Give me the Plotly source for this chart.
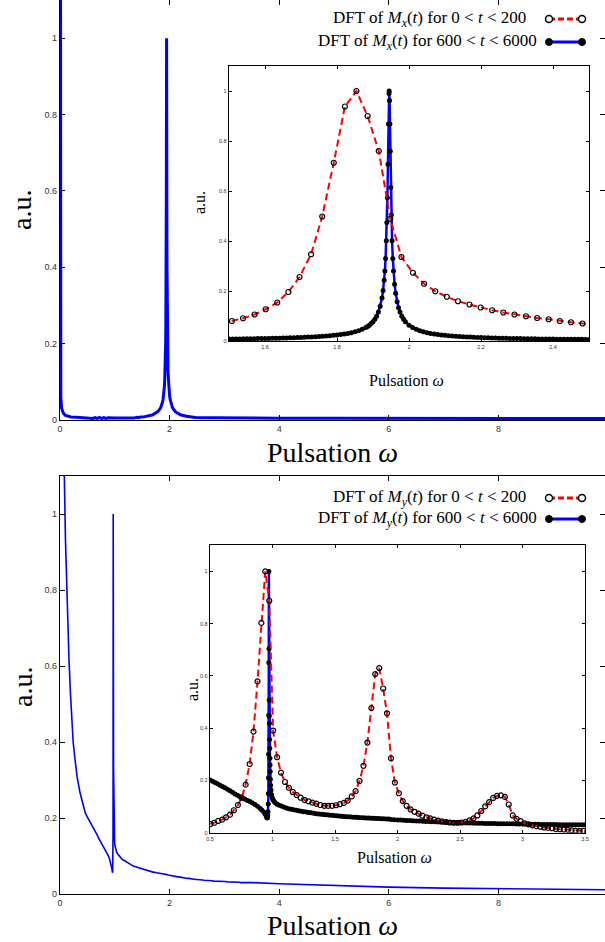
import plotly.graph_objects as go

# ---------------- DATA ----------------
# Top inset: DFT of Mx(t), 0<t<200 (red dashed, open circles)
mx_short_w = [1.477, 1.508, 1.539, 1.571, 1.602, 1.634, 1.665, 1.696, 1.728, 1.759, 1.791,
              1.822, 1.854, 1.885, 1.916, 1.948, 1.979, 2.011, 2.042, 2.073, 2.105,
              2.136, 2.168, 2.199, 2.231, 2.262, 2.293, 2.325, 2.356, 2.388, 2.419,
              2.450, 2.482, 2.513]
mx_short_a = [0.073, 0.080, 0.091, 0.106, 0.127, 0.154, 0.196, 0.256, 0.347, 0.498, 0.713,
              0.938, 1.000, 0.900, 0.760, 0.489, 0.336, 0.273, 0.229, 0.199, 0.177,
              0.159, 0.146, 0.134, 0.123, 0.114, 0.106, 0.099, 0.092, 0.087, 0.080,
              0.075, 0.070, 0.066]

# DFT of Mx(t), 600<t<6000 (blue line, black dots) in the inset window
mx_long_w = [1.49, 1.50, 1.51, 1.52, 1.53, 1.54, 1.55, 1.56, 1.57, 1.58, 1.59, 1.60, 1.61,
             1.62, 1.63, 1.64, 1.65, 1.66, 1.67, 1.68, 1.69, 1.70, 1.71, 1.72, 1.73, 1.74,
             1.75, 1.76, 1.77, 1.78, 1.79, 1.80, 1.81, 1.82, 1.83, 1.84, 1.85, 1.86, 1.87,
             1.88, 1.885, 1.89, 1.895, 1.90, 1.905, 1.91, 1.915, 1.92, 1.925, 1.928, 1.931,
             1.933, 1.935, 1.937, 1.9385, 1.940, 1.9415, 1.943, 1.9445, 1.945, 1.946, 1.947,
             1.948, 1.9495, 1.951, 1.953, 1.955, 1.957, 1.960, 1.963, 1.967, 1.971, 1.975,
             1.98, 1.985, 1.99, 2.00, 2.01, 2.02, 2.03, 2.04, 2.05, 2.06, 2.07, 2.08, 2.09,
             2.10, 2.11, 2.12, 2.13, 2.14, 2.15, 2.16, 2.17, 2.18, 2.19, 2.20, 2.21, 2.22,
             2.23, 2.24, 2.25, 2.26, 2.27, 2.28, 2.29, 2.30, 2.31, 2.32, 2.33, 2.34, 2.35,
             2.36, 2.37, 2.38, 2.39, 2.40, 2.41, 2.42, 2.43, 2.44, 2.45, 2.46, 2.47, 2.48,
             2.49, 2.50, 2.51]
mx_long_a = [0.0077, 0.0079, 0.0080, 0.0082, 0.0084, 0.0086, 0.0089, 0.0091, 0.0093, 0.0096,
             0.0099, 0.0101, 0.0104, 0.0108, 0.0111, 0.0115, 0.0119, 0.0123, 0.0127, 0.0132,
             0.0137, 0.0143, 0.0149, 0.0156, 0.0163, 0.0171, 0.0179, 0.0189, 0.0200, 0.0212,
             0.0226, 0.0241, 0.0259, 0.0280, 0.0304, 0.0333, 0.0368, 0.0411, 0.0466, 0.0537,
             0.0582, 0.0635, 0.0698, 0.0775, 0.0872, 0.0995, 0.116, 0.139, 0.172, 0.202, 0.243,
             0.280, 0.330, 0.401, 0.474, 0.573, 0.707, 0.868, 0.990, 1.000, 0.962, 0.868,
             0.759, 0.614, 0.504, 0.401, 0.330, 0.280, 0.227, 0.191, 0.157, 0.133, 0.116,
             0.0995, 0.0872, 0.0775, 0.0635, 0.0537, 0.0466, 0.0411, 0.0368, 0.0333, 0.0304,
             0.0280, 0.0259, 0.0241, 0.0226, 0.0212, 0.0200, 0.0189, 0.0179, 0.0171, 0.0163,
             0.0156, 0.0149, 0.0143, 0.0137, 0.0132, 0.0127, 0.0123, 0.0119, 0.0115, 0.0111,
             0.0108, 0.0104, 0.0101, 0.0099, 0.0096, 0.0093, 0.0091, 0.0089, 0.0086, 0.0084,
             0.0082, 0.0080, 0.0079, 0.0077, 0.0075, 0.0074, 0.0072, 0.0071, 0.0069, 0.0068,
             0.0067, 0.0066, 0.0065, 0.0063, 0.0062]

# Rest of the Mx long-window spectrum, seen only in the main top panel
mx_long_low_w = [0.0, 0.004, 0.008, 0.015, 0.03, 0.06, 0.1, 0.15, 0.2, 0.3, 0.4, 0.5, 0.55,
                 0.6, 0.64, 0.68, 0.72, 0.76, 0.8, 0.84, 0.88, 0.92, 0.96, 1.0, 1.1, 1.2,
                 1.3, 1.35, 1.4, 1.44, 1.47]
mx_long_low_a = [3.0, 0.5, 0.15, 0.06, 0.03, 0.018, 0.012, 0.009, 0.008, 0.007, 0.006, 0.005,
                 0.006, 0.004, 0.006, 0.004, 0.007, 0.004, 0.006, 0.004, 0.006, 0.005, 0.006,
                 0.005, 0.005, 0.005, 0.006, 0.005, 0.007, 0.006, 0.008]
mx_long_high_w = [2.6, 2.8, 3.0, 3.5, 4.0, 5.0, 6.0, 7.0, 8.0, 9.0, 10.0]
mx_long_high_a = [0.0060, 0.0056, 0.0053, 0.0050, 0.0048, 0.0046, 0.0045, 0.0044, 0.0042,
                  0.0041, 0.0040]

# Bottom inset: DFT of My(t), 0<t<200 (red dashed, open circles)
my_short_w = [0.503, 0.534, 0.565, 0.597, 0.628, 0.660, 0.691, 0.723, 0.754, 0.785, 0.817,
              0.848, 0.880, 0.911, 0.942, 0.974, 1.005, 1.037, 1.068, 1.100, 1.131, 1.162,
              1.194, 1.225, 1.257, 1.288, 1.319, 1.351, 1.382, 1.414, 1.445, 1.477, 1.508,
              1.539, 1.571, 1.602, 1.634, 1.665, 1.696, 1.728, 1.759, 1.791, 1.822, 1.854,
              1.885, 1.916, 1.948, 1.979, 2.011, 2.042, 2.073, 2.105, 2.136, 2.168, 2.199,
              2.231, 2.262, 2.293, 2.325, 2.356, 2.388, 2.419, 2.450, 2.482, 2.513, 2.545,
              2.576, 2.608, 2.639, 2.670, 2.702, 2.733, 2.765, 2.796, 2.827, 2.859, 2.890,
              2.922, 2.953, 2.985, 3.016, 3.047, 3.079, 3.110, 3.142, 3.173, 3.204, 3.236,
              3.267, 3.299, 3.330, 3.362, 3.393, 3.424, 3.456, 3.487, 3.519]
my_short_a = [0.033, 0.038, 0.045, 0.050, 0.059, 0.069, 0.086, 0.106, 0.134, 0.184, 0.263,
              0.387, 0.579, 0.803, 1.000, 0.888, 0.391, 0.289, 0.230, 0.194, 0.172, 0.156,
              0.144, 0.134, 0.125, 0.120, 0.115, 0.111, 0.106, 0.103, 0.103, 0.103, 0.105,
              0.109, 0.114, 0.123, 0.139, 0.159, 0.198, 0.256, 0.345, 0.477, 0.607, 0.630,
              0.552, 0.457, 0.285, 0.192, 0.151, 0.121, 0.103, 0.089, 0.080, 0.073, 0.065,
              0.059, 0.055, 0.050, 0.046, 0.043, 0.041, 0.039, 0.038, 0.038, 0.039, 0.042,
              0.047, 0.055, 0.066, 0.083, 0.101, 0.117, 0.133, 0.141, 0.143, 0.137, 0.108,
              0.066, 0.053, 0.044, 0.036, 0.032, 0.028, 0.025, 0.023, 0.020, 0.019, 0.017,
              0.014, 0.013, 0.012, 0.011, 0.009, 0.008, 0.007, 0.007, 0.006]

# DFT of My(t), 600<t<6000 in the inset window
my_long_w = [0.50, 0.52, 0.54, 0.56, 0.58, 0.60, 0.62, 0.64, 0.66, 0.68, 0.70, 0.72, 0.74,
             0.76, 0.78, 0.80, 0.82, 0.84, 0.86, 0.88, 0.90, 0.915, 0.93, 0.94, 0.948, 0.953,
             0.957, 0.960, 0.962, 0.964, 0.966, 0.967, 0.968, 0.969, 0.970, 0.9705, 0.971,
             0.9722, 0.9734, 0.9745, 0.9757, 0.9769, 0.978, 0.9792, 0.9804, 0.9815, 0.983,
             0.985, 0.988, 0.992, 0.997, 1.003, 1.01, 1.02, 1.035, 1.05, 1.07, 1.09, 1.11,
             1.13, 1.15, 1.17, 1.19, 1.21, 1.23, 1.25, 1.27, 1.29, 1.31, 1.33, 1.35, 1.37,
             1.39, 1.41, 1.43, 1.45, 1.47, 1.49, 1.51, 1.53, 1.55, 1.57, 1.59, 1.61, 1.63,
             1.65, 1.67, 1.69, 1.71, 1.73, 1.75, 1.77, 1.79, 1.81, 1.83, 1.85, 1.87, 1.89,
             1.91, 1.93, 1.95, 1.975, 2.00, 2.025, 2.05, 2.075, 2.10, 2.125, 2.15, 2.175,
             2.20, 2.225, 2.25, 2.275, 2.30, 2.325, 2.35, 2.375, 2.40, 2.425, 2.45, 2.475,
             2.50, 2.525, 2.55, 2.575, 2.60, 2.625, 2.65, 2.675, 2.70, 2.725, 2.75, 2.775,
             2.80, 2.825, 2.85, 2.875, 2.90, 2.925, 2.95, 2.975, 3.00, 3.025, 3.05, 3.075,
             3.10, 3.125, 3.15, 3.175, 3.20, 3.225, 3.25, 3.275, 3.30, 3.325, 3.35, 3.375,
             3.40, 3.425, 3.45, 3.475, 3.50, 3.52]
my_long_a = [0.202, 0.197, 0.192, 0.187, 0.182, 0.177, 0.172, 0.166, 0.161, 0.155, 0.148,
             0.143, 0.138, 0.133, 0.128, 0.123, 0.119, 0.114, 0.108, 0.101, 0.094, 0.087,
             0.079, 0.073, 0.066, 0.060, 0.056, 0.058, 0.066, 0.080, 0.110, 0.150, 0.210,
             0.300, 0.450, 0.650, 1.000, 0.704, 0.508, 0.447, 0.419, 0.357, 0.323, 0.285,
             0.259, 0.234, 0.205, 0.182, 0.163, 0.146, 0.135, 0.127, 0.121, 0.116, 0.110,
             0.106, 0.102, 0.098, 0.095, 0.092, 0.090, 0.088, 0.086, 0.084, 0.082, 0.080,
             0.079, 0.077, 0.076, 0.074, 0.073, 0.072, 0.071, 0.070, 0.069, 0.068, 0.067,
             0.066, 0.065, 0.064, 0.063, 0.062, 0.061, 0.061, 0.060, 0.059, 0.059, 0.058,
             0.057, 0.057, 0.056, 0.056, 0.055, 0.055, 0.054, 0.054, 0.053, 0.053, 0.052,
             0.052, 0.051, 0.050, 0.049, 0.049, 0.048, 0.047, 0.047, 0.046, 0.045, 0.045,
             0.044, 0.043, 0.043, 0.042, 0.042, 0.041, 0.041, 0.040, 0.040, 0.039, 0.039,
             0.038, 0.038, 0.038, 0.037, 0.037, 0.037, 0.036, 0.036, 0.036, 0.035, 0.035,
             0.035, 0.035, 0.034, 0.034, 0.034, 0.034, 0.034, 0.034, 0.033, 0.033, 0.033,
             0.033, 0.032, 0.032, 0.032, 0.032, 0.031, 0.031, 0.031, 0.031, 0.031, 0.031,
             0.030, 0.030, 0.030, 0.030, 0.030, 0.030, 0.030, 0.030, 0.030, 0.030]

my_long_low_w = [0.04, 0.06, 0.079, 0.10, 0.12, 0.14, 0.164, 0.19, 0.213, 0.24, 0.274, 0.31,
                 0.365, 0.42, 0.46]
my_long_low_a = [2.0, 1.4, 1.10, 0.93, 0.809, 0.70, 0.617, 0.53, 0.459, 0.40, 0.354, 0.31,
                 0.267, 0.232, 0.214]
my_long_high_w = [4.0, 5.0, 6.0, 7.0, 8.0, 9.0, 10.0]
my_long_high_a = [0.027, 0.022, 0.018, 0.0155, 0.0135, 0.012, 0.011]

y_ticks = [0, 0.2, 0.4, 0.6, 0.8, 1.0]
main_x_ticks = [0, 2, 4, 6, 8, 10]
inset1_x_ticks = [1.6, 1.8, 2.0, 2.2, 2.4]
inset2_x_ticks = [0.5, 1.0, 1.5, 2.0, 2.5, 3.0, 3.5]

# ---------------- FIGURE ----------------
W, H = 605, 942
def px(x):
    return x / W
def py(y):
    return 1 - y / H

BLUE = "#0000ff"
RED = "#ff0000"
SERIF = "Liberation Serif, DejaVu Serif, serif"
SANS = "Liberation Sans, DejaVu Sans, sans-serif"

fig = go.Figure()

# main top
fig.add_trace(go.Scatter(x=mx_long_low_w + mx_long_w + mx_long_high_w,
                         y=mx_long_low_a + mx_long_a + mx_long_high_a,
                         mode="lines", line=dict(color=BLUE, width=3),
                         xaxis="x", yaxis="y", showlegend=False))
# inset top
fig.add_trace(go.Scatter(x=mx_long_w, y=mx_long_a, mode="lines+markers",
                         line=dict(color=BLUE, width=2.5),
                         marker=dict(color="black", size=5, line=dict(width=0)),
                         xaxis="x2", yaxis="y2", showlegend=False))
fig.add_trace(go.Scatter(x=mx_short_w, y=mx_short_a, mode="lines+markers",
                         line=dict(color=RED, width=2, dash="7px,4px"),
                         marker=dict(symbol="circle-open", color="black", size=5,
                                     line=dict(width=1.2)),
                         xaxis="x2", yaxis="y2", showlegend=False))
# main bottom
fig.add_trace(go.Scatter(x=my_long_low_w + my_long_w + my_long_high_w,
                         y=my_long_low_a + my_long_a + my_long_high_a,
                         mode="lines", line=dict(color=BLUE, width=1.6),
                         xaxis="x3", yaxis="y3", showlegend=False))
# inset bottom
fig.add_trace(go.Scatter(x=my_long_w, y=my_long_a, mode="lines+markers",
                         line=dict(color=BLUE, width=2.5),
                         marker=dict(color="black", size=5, line=dict(width=0)),
                         xaxis="x4", yaxis="y4", showlegend=False))
fig.add_trace(go.Scatter(x=my_short_w, y=my_short_a, mode="lines+markers",
                         line=dict(color=RED, width=2, dash="7px,4px"),
                         marker=dict(symbol="circle-open", color="black", size=5,
                                     line=dict(width=1.2)),
                         xaxis="x4", yaxis="y4", showlegend=False))

def ax(domain, rng, tickvals, fsize, ticklen, anchor):
    return dict(domain=domain, range=rng, tickvals=tickvals, showline=True,
                linecolor="black", linewidth=1.3, mirror="ticks", ticks="inside",
                ticklen=ticklen, tickcolor="black", tickwidth=1, showgrid=False,
                zeroline=False, anchor=anchor, automargin=False,
                tickfont=dict(family=SANS, size=fsize, color="#333333"))

fig.update_layout(
    template="none",
    width=W, height=H, margin=dict(l=0, r=0, t=0, b=0, pad=0), autosize=False,
    paper_bgcolor="white", plot_bgcolor="white", hovermode=False,
    xaxis=ax([px(60), 1.0], [0, 9.945], main_x_ticks, 9, 5, "y"),
    yaxis=ax([py(420), 1.0], [0, 1.1], y_ticks, 9, 5, "x"),
    xaxis2=ax([px(229), px(589)], [1.5, 2.5], inset1_x_ticks, 5.5, 3, "y2"),
    yaxis2=ax([py(341), py(66)], [0, 1.1], y_ticks, 5.5, 3, "x2"),
    xaxis3=ax([px(60), 1.0], [0, 9.945], main_x_ticks, 9, 5, "y3"),
    yaxis3=ax([py(894), py(476)], [0, 1.1], y_ticks, 9, 5, "x3"),
    xaxis4=ax([px(210), px(585)], [0.5, 3.5], inset2_x_ticks, 5.5, 3, "y4"),
    yaxis4=ax([py(832.7), py(545.3)], [0, 1.1], y_ticks, 5.5, 3, "x4"),
)

annotations = []
def txt(x, y, s, size, angle=0, xanchor="center"):
    annotations.append(dict(x=px(x), y=py(y), xref="paper", yref="paper", text=s,
                            showarrow=False, xanchor=xanchor, yanchor="middle",
                            textangle=angle, font=dict(family=SERIF, size=size, color="black")))

omega = "Pulsation <i>ω</i>"
txt(332, 452, omega, 28)
txt(332, 925, omega, 28)
txt(22, 210, "a.u.", 28, -90)
txt(22, 687, "a.u.", 28, -90)
txt(406, 380, omega, 16)
txt(394, 857, omega, 16)
txt(199, 203, "a.u.", 16, -90)
txt(192, 690, "a.u.", 16, -90)

leg = [
    (19, "DFT of <i>M<sub>x</sub></i>(<i>t</i>) for 0 &lt; <i>t</i> &lt; 200", 528, "short"),
    (42, "DFT of <i>M<sub>x</sub></i>(<i>t</i>) for 600 &lt; <i>t</i> &lt; 6000", 539, "long"),
    (498, "DFT of <i>M<sub>y</sub></i>(<i>t</i>) for 0 &lt; <i>t</i> &lt; 200", 528, "short"),
    (519, "DFT of <i>M<sub>y</sub></i>(<i>t</i>) for 600 &lt; <i>t</i> &lt; 6000", 539, "long"),
]
shapes = []
for yy, s, xr, kind in leg:
    txt(xr, yy, s, 17, 0, "right")
    if kind == "short":
        shapes.append(dict(type="line", xref="paper", yref="paper", x0=px(549), x1=px(582),
                           y0=py(yy), y1=py(yy), line=dict(color=RED, width=3, dash="6px,3px")))
        for cx in (549, 582):
            shapes.append(dict(type="circle", xref="paper", yref="paper",
                               x0=px(cx - 3.5), x1=px(cx + 3.5), y0=py(yy + 3.5), y1=py(yy - 3.5),
                               line=dict(color="black", width=1.5), fillcolor="white"))
    else:
        shapes.append(dict(type="line", xref="paper", yref="paper", x0=px(549), x1=px(582),
                           y0=py(yy), y1=py(yy), line=dict(color=BLUE, width=3)))
        for cx in (549, 582):
            shapes.append(dict(type="circle", xref="paper", yref="paper",
                               x0=px(cx - 3.5), x1=px(cx + 3.5), y0=py(yy + 3.5), y1=py(yy - 3.5),
                               line=dict(color="black", width=1), fillcolor="black"))

fig.update_layout(annotations=annotations, shapes=shapes)
fig.write_html("out.html",
               config={"displayModeBar": False, "staticPlot": True},
               post_script="document.body.style.margin='0px';"
                           "document.body.style.overflow='hidden';")
